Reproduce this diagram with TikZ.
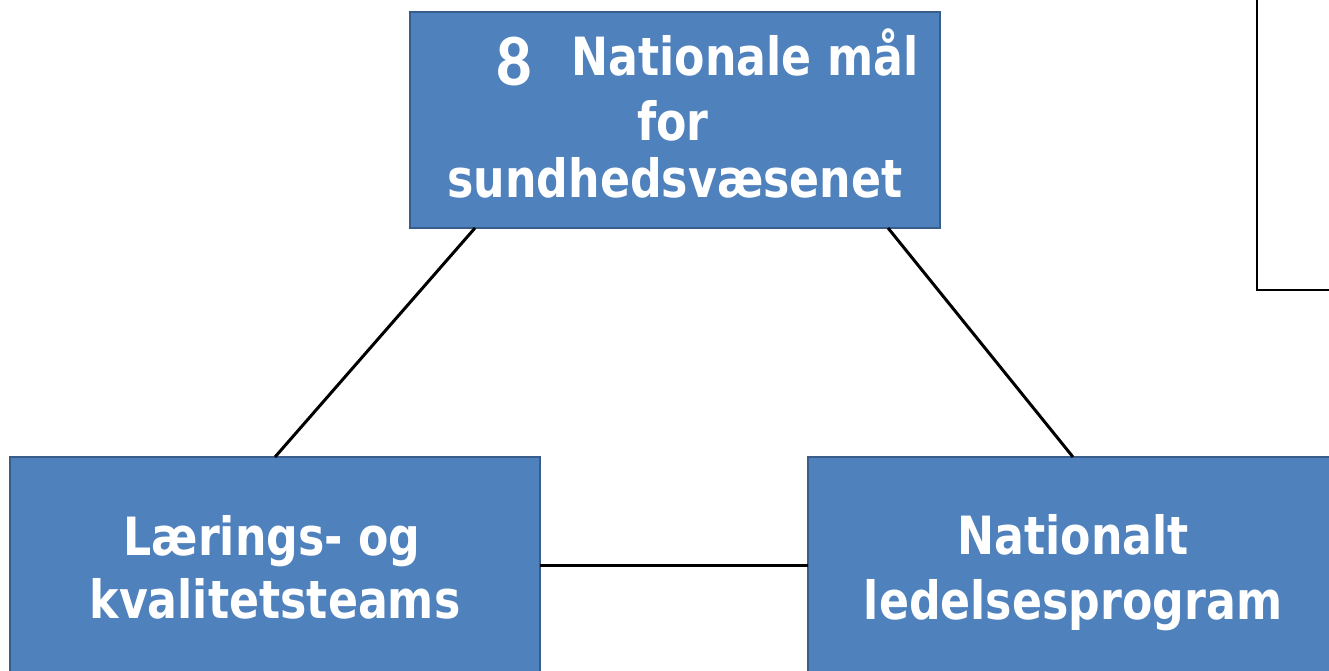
\documentclass[tikz,border=0pt]{standalone}
\usepackage{fontspec}
\usetikzlibrary{calc}
\setmainfont{Liberation Sans}
\newfontfamily\boxfont[FakeStretch=0.84]{DejaVu Sans}
\newfontfamily\numfont{Carlito}
\definecolor{col_4F81BD}{RGB}{79,129,189}
\definecolor{col_385D8A}{RGB}{56,93,138}
\definecolor{col_000000}{RGB}{0,0,0}
\tikzset{
  bluebox/.style={draw=col_385D8A, line width=1.1pt, fill=col_4F81BD, minimum width=10.6cm, minimum height=4.32cm, inner sep=0pt, outer sep=0pt},
  boxtext/.style={text=white, font=\boxfont\bfseries\fontsize{30}{36}\selectfont, anchor=base, inner sep=0pt},
  link/.style={solid, col_000000, line width=1.7pt}
}
\begin{document}
\begin{tikzpicture}[x=0.02cm, y=-0.02cm]
\useasboundingbox (0,0) rectangle (1329,670);
\fill[white] (0,0) rectangle (1329,670);
\draw[col_000000, line width=1.1pt, fill=white] (1257,-20) rectangle (1360,290);     %% frame top right
\node[bluebox] (maal) at (675,120) {};
\node[bluebox] (laering) at (275,565) {};
\node[bluebox] (ledelse) at (1073,565) {};
\node[boxtext, font=\numfont\bfseries\fontsize{40}{40}\selectfont] (otte) at (514,85) {8};
\node[boxtext] (maaltxt) at (745,75) {Nationale mål};
\node[boxtext] (fortxt) at (673,140) {for};
\node[boxtext] (sundtxt) at (675,197) {sundhedsvæsenet};
\node[boxtext] (laeringtxt) at (272,555) {Lærings- og};
\node[boxtext] (kvalitettxt) at (275,618) {kvalitetsteams};
\node[boxtext] (nationalttxt) at (1073,554) {Nationalt};
\node[boxtext] (ledelsetxt) at (1073,619) {ledelsesprogram};
\draw[link] ($(maal.south west)!0.1226!(maal.south east)$) -- (laering.north);
\draw[link] ($(maal.south west)!0.902!(maal.south east)$) -- (ledelse.north);
\draw[link] (laering.east) -- (ledelse.west);
\end{tikzpicture}
\end{document}
